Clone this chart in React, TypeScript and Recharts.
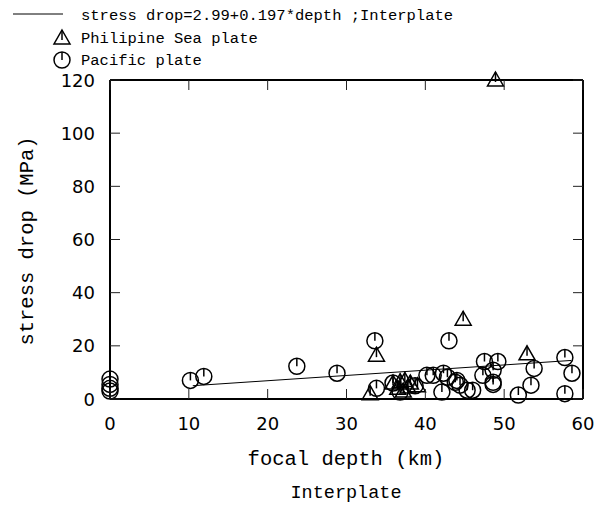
import { ScatterChart, Scatter, XAxis, YAxis } from 'recharts';

const xTicks = [0, 10, 20, 30, 40, 50, 60];
const yTicks = [0, 20, 40, 60, 80, 100, 120];

// Philipine Sea plate events: [depth km, stress drop MPa]
const philippineSea = [
  [48.9, 120], [44.8, 30], [33.8, 16.5], [52.9, 17],
  [33.0, 2], [35.9, 6], [36.8, 6.5], [37.4, 7], [38.1, 6],
  [37.2, 3], [37.8, 4.5], [36.5, 4], [39.0, 5],
].map(([x, y]) => ({ x, y }));

// Pacific plate events
const pacific = [
  [0, 7.5], [0, 5.5], [0, 4], [0, 3],
  [10.2, 7], [11.9, 8.5], [23.7, 12.3], [28.8, 9.7],
  [33.6, 21.9], [43.0, 21.9], [33.8, 4], [35.9, 6], [38.7, 5],
  [36.8, 2.6], [40.2, 8.9], [41.0, 8.9], [42.3, 9.7], [42.1, 2.6],
  [42.8, 8.2], [43.8, 6.3], [44.4, 5.2], [44.0, 7], [45.3, 3.3], [46.0, 3.3],
  [47.5, 14.1], [49.2, 14.1], [47.3, 8.9], [48.6, 10.8], [48.6, 6.3], [48.6, 5.5],
  [51.8, 1.5], [53.4, 5.2], [53.8, 11.5], [57.7, 15.6], [58.6, 9.7], [57.7, 2.0],
].map(([x, y]) => ({ x, y }));

// fitted line end points (stress drop=2.99+0.197*depth)
const fitLine = [
  { x: 10.5, y: 5.0 },
  { x: 58.5, y: 14.5 },
];

const MONO = '"Liberation Mono", monospace';
const SANS = '"DejaVu Sans", sans-serif';

const Triangle = ({ cx, cy }: any) => (
  <g fill="none" stroke="#000" strokeWidth={1.5}>
    <path d={`M${cx},${cy - 8} L${cx + 8},${cy + 6} L${cx - 8},${cy + 6} Z`} />
    <line x1={cx} x2={cx} y1={cy - 8} y2={cy + 2} />
  </g>
);

const Circle = ({ cx, cy }: any) => (
  <g fill="none" stroke="#000" strokeWidth={1.5}>
    <circle cx={cx} cy={cy} r={8} />
    <line x1={cx} x2={cx} y1={cy - 8} y2={cy} />
  </g>
);

// inward tick marks, labels outside
const BottomTick = ({ x, y, payload }: any) => (
  <g>
    <line x1={x} x2={x} y1={y} y2={y - 10} stroke="#222" />
    <text x={x} y={y + 31} textAnchor="middle" fontFamily={SANS} fontSize={18} fill="#000">
      {payload.value}
    </text>
  </g>
);

const TopTick = ({ x, y }: any) => (
  <line x1={x} x2={x} y1={y} y2={y + 10} stroke="#222" />
);

const LeftTick = ({ x, y, payload }: any) => (
  <g>
    <line x1={x} x2={x + 10} y1={y} y2={y} stroke="#222" />
    <text x={x - 15} y={y + 6.5} textAnchor="end" fontFamily={SANS} fontSize={18} fill="#000">
      {payload.value}
    </text>
  </g>
);

const RightTick = ({ x, y }: any) => (
  <line x1={x} x2={x - 10} y1={y} y2={y} stroke="#222" />
);

export default function App() {
  return (
    <div style={{ position: 'absolute', left: 0, top: 0, width: 607, height: 506, background: '#fff' }}>
      <ScatterChart width={607} height={506} margin={{ top: 79, right: 23, bottom: 77, left: 50 }}>
        <XAxis
          type="number"
          dataKey="x"
          domain={[0, 60]}
          ticks={xTicks}
          interval={0}
          tickSize={0}
          tickMargin={0}
          height={30}
          axisLine={{ stroke: '#000', strokeWidth: 2 }}
          tick={BottomTick}
        />
        <XAxis
          xAxisId="top"
          orientation="top"
          type="number"
          dataKey="x"
          domain={[0, 60]}
          ticks={xTicks}
          interval={0}
          tickSize={0}
          tickMargin={0}
          height={1}
          axisLine={{ stroke: '#000', strokeWidth: 2 }}
          tick={TopTick}
        />
        <YAxis
          type="number"
          dataKey="y"
          domain={[0, 120]}
          ticks={yTicks}
          interval={0}
          tickSize={0}
          tickMargin={0}
          width={60}
          axisLine={{ stroke: '#000', strokeWidth: 2 }}
          tick={LeftTick}
        />
        <YAxis
          yAxisId="right"
          orientation="right"
          type="number"
          dataKey="y"
          domain={[0, 120]}
          ticks={yTicks}
          interval={0}
          tickSize={0}
          tickMargin={0}
          width={1}
          axisLine={{ stroke: '#000', strokeWidth: 2 }}
          tick={RightTick}
        />
        {/* invisible series so the frame axes (top/right) get drawn */}
        <Scatter
          data={fitLine}
          xAxisId="top"
          yAxisId="right"
          shape={() => <g />}
          isAnimationActive={false}
        />
        <Scatter
          data={fitLine}
          line={{ stroke: '#000', strokeWidth: 1 }}
          shape={() => <g />}
          isAnimationActive={false}
        />
        <Scatter data={philippineSea} shape={Triangle} isAnimationActive={false} />
        <Scatter data={pacific} shape={Circle} isAnimationActive={false} />
      </ScatterChart>
      <svg
        width={607}
        height={506}
        style={{ position: 'absolute', left: 0, top: 0, pointerEvents: 'none' }}
      >
        <text x={346} y={465} textAnchor="middle" fontFamily={MONO} fontSize={20.5} fill="#000">
          focal depth (km)
        </text>
        <text x={346} y={498} textAnchor="middle" fontFamily={MONO} fontSize={18.5} fill="#000">
          Interplate
        </text>
        <text
          transform="translate(33,241) rotate(-90)"
          textAnchor="middle"
          fontFamily={MONO}
          fontSize={20.5}
          fill="#000"
        >
          stress drop (MPa)
        </text>
        <line x1={13} x2={63} y1={14} y2={14} stroke="#000" />
        <text x={81} y={20} fontFamily={MONO} fontSize={15.5} fill="#000">
          stress drop=2.99+0.197*depth ;Interplate
        </text>
        <Triangle cx={62} cy={38} />
        <text x={81} y={43} fontFamily={MONO} fontSize={15.5} fill="#000">
          Philipine Sea plate
        </text>
        <Circle cx={62} cy={60} />
        <text x={81} y={65} fontFamily={MONO} fontSize={15.5} fill="#000">
          Pacific plate
        </text>
      </svg>
    </div>
  );
}
